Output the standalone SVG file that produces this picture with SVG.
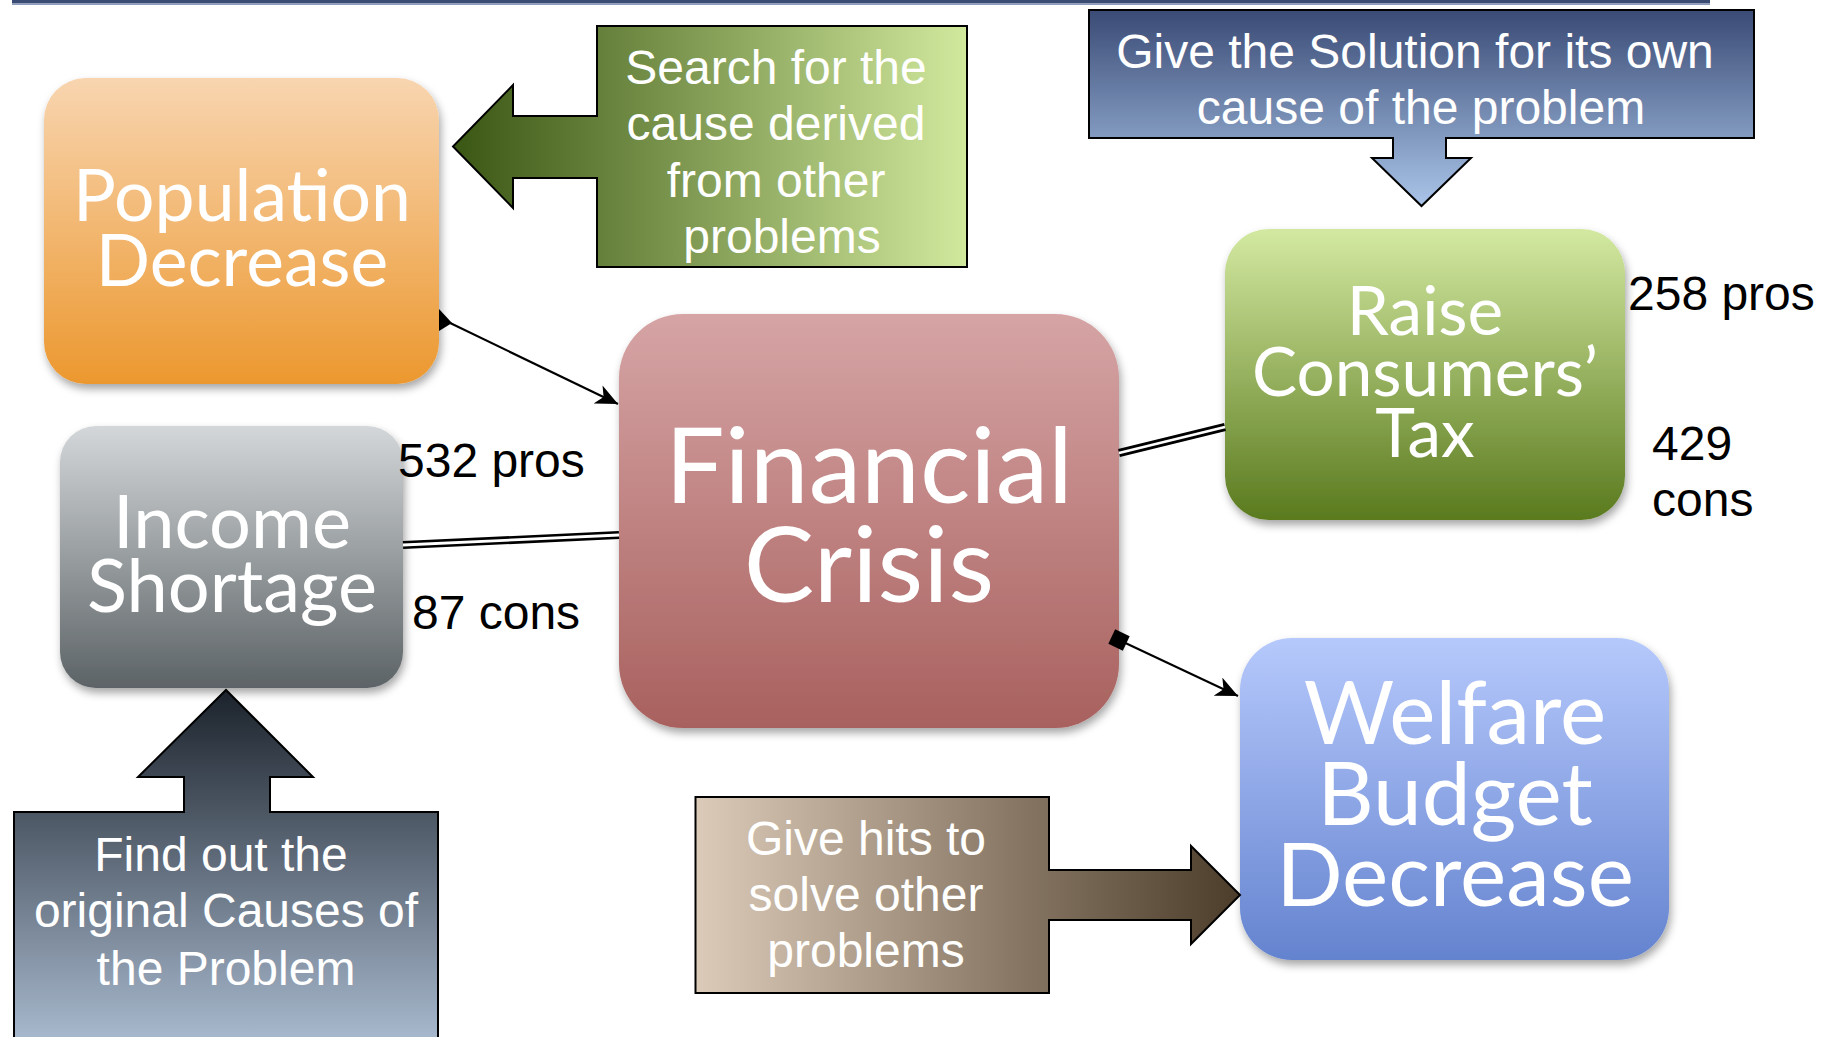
<svg xmlns="http://www.w3.org/2000/svg" width="1836" height="1037" viewBox="0 0 1836 1037">
  <defs>
    <linearGradient id="gPop" x1="0" y1="0" x2="0" y2="1">
      <stop offset="0" stop-color="#f8d5b0"/>
      <stop offset="1" stop-color="#ec982f"/>
    </linearGradient>
    <linearGradient id="gInc" x1="0" y1="0" x2="0" y2="1">
      <stop offset="0" stop-color="#d4d7d9"/>
      <stop offset="1" stop-color="#5c6366"/>
    </linearGradient>
    <linearGradient id="gFin" x1="0" y1="0" x2="0" y2="1">
      <stop offset="0" stop-color="#d6a4a5"/>
      <stop offset="1" stop-color="#a8615e"/>
    </linearGradient>
    <linearGradient id="gTax" x1="0" y1="0" x2="0" y2="1">
      <stop offset="0" stop-color="#d3e9a1"/>
      <stop offset="1" stop-color="#5a7a1e"/>
    </linearGradient>
    <linearGradient id="gWel" x1="0" y1="0" x2="0" y2="1">
      <stop offset="0" stop-color="#b6c9fc"/>
      <stop offset="1" stop-color="#6483cf"/>
    </linearGradient>
    <linearGradient id="gSearch" x1="0" y1="0" x2="1" y2="0">
      <stop offset="0" stop-color="#3a5613"/>
      <stop offset="1" stop-color="#d1e99d"/>
    </linearGradient>
    <linearGradient id="gSolve" x1="0" y1="0" x2="0" y2="1">
      <stop offset="0" stop-color="#3a4b75"/>
      <stop offset="1" stop-color="#aac5e9"/>
    </linearGradient>
    <linearGradient id="gFind" x1="0" y1="0" x2="0" y2="1">
      <stop offset="0" stop-color="#1b222b"/>
      <stop offset="1" stop-color="#aabbd0"/>
    </linearGradient>
    <linearGradient id="gHits" x1="0" y1="0" x2="1" y2="0">
      <stop offset="0" stop-color="#dccbb8"/>
      <stop offset="1" stop-color="#4c3c2a"/>
    </linearGradient>
    <filter id="shadow" x="-10%" y="-10%" width="125%" height="130%">
      <feDropShadow dx="2" dy="5" stdDeviation="4" flood-color="#000" flood-opacity="0.35"/>
    </filter>
    <marker id="stealth" viewBox="0 0 24 20" refX="22" refY="10" markerWidth="24" markerHeight="20" markerUnits="userSpaceOnUse" orient="auto">
      <path d="M22,10 L0,0 L6,10 L0,20 Z" fill="#000"/>
    </marker>
    <marker id="square" viewBox="0 0 18 18" refX="9" refY="9" markerWidth="18" markerHeight="18" markerUnits="userSpaceOnUse" orient="auto">
      <rect x="1" y="1" width="16" height="16" fill="#000"/>
    </marker>
  </defs>
  <style>
    .node-text { font-family: Lato, "Open Sans", sans-serif; fill: #fff; text-anchor: middle; }
    .call-text { font-family: "Liberation Sans", Arial, sans-serif; font-size: 48px; fill: #fff; text-anchor: middle; }
    .count { font-family: "Liberation Sans", Arial, sans-serif; font-size: 48px; fill: #000; }
    .callout { stroke: #000; stroke-width: 2; stroke-linejoin: miter; }
    .link { fill: none; stroke: #000; stroke-width: 2.2; }
    .dbl-outer { fill: none; stroke: #000; stroke-width: 8; }
    .dbl-inner { fill: none; stroke: #fff; stroke-width: 2.8; }
  </style>

  <!-- header rule -->
  <rect x="12" y="0" width="1698" height="3.5" fill="#3a4b74"/>
  <rect x="12" y="3.5" width="1698" height="1.5" fill="#8d9cbd"/>

  <!-- problem nodes -->
  <g id="population-decrease" filter="url(#shadow)">
    <rect x="44" y="78" width="395" height="306" rx="42" fill="url(#gPop)"/>
    <text class="node-text" font-size="71.5"><tspan x="242" y="221">Population</tspan><tspan x="242" y="286">Decrease</tspan></text>
  </g>

  <g id="income-shortage" filter="url(#shadow)">
    <rect x="60" y="426" width="343" height="262" rx="36" fill="url(#gInc)"/>
    <text class="node-text" font-size="74"><tspan x="232" y="548">Income</tspan><tspan x="232" y="612">Shortage</tspan></text>
  </g>

  <g id="financial-crisis" filter="url(#shadow)">
    <rect x="619" y="314" width="500" height="414" rx="64" fill="url(#gFin)"/>
    <text class="node-text" font-size="105.5"><tspan x="869" y="503">Financial</tspan><tspan x="869" y="602">Crisis</tspan></text>
  </g>

  <g id="raise-consumers-tax" filter="url(#shadow)">
    <rect x="1225" y="229" width="400" height="291" rx="44" fill="url(#gTax)"/>
    <text class="node-text" font-size="67.5"><tspan x="1425" y="335">Raise</tspan><tspan x="1425" y="396">Consumers’</tspan><tspan x="1425" y="457">Tax</tspan></text>
  </g>

  <g id="welfare-budget-decrease" filter="url(#shadow)">
    <rect x="1240" y="638" width="429" height="322" rx="52" fill="url(#gWel)"/>
    <text class="node-text" font-size="87.5"><tspan x="1455" y="744">Welfare</tspan><tspan x="1455" y="825">Budget</tspan><tspan x="1455" y="906">Decrease</tspan></text>
  </g>

  <!-- callout arrows -->
  <g id="search-cause">
    <path class="callout" fill="url(#gSearch)" d="M597,26 H967 V267 H597 V178 H513 V208 L453,146.5 L513,85 V116 H597 Z"/>
    <text class="call-text"><tspan x="776" y="84">Search for the</tspan><tspan x="776" y="140">cause derived</tspan><tspan x="776" y="197">from other</tspan><tspan x="782" y="253">problems</tspan></text>
  </g>

  <g id="give-solution">
    <path class="callout" fill="url(#gSolve)" d="M1089,10 H1754 V138 H1446 V158 H1471 L1421.5,206 L1372,158 H1393 V138 H1089 Z"/>
    <text class="call-text"><tspan x="1415" y="68">Give the Solution for its own</tspan><tspan x="1421" y="124">cause of the problem</tspan></text>
  </g>

  <g id="find-causes">
    <path class="callout" fill="url(#gFind)" d="M14,812 H184 V777 H138 L226,690 L313,777 H270 V812 H438 V1046 H14 Z"/>
    <text class="call-text"><tspan x="221" y="871">Find out the</tspan><tspan x="226" y="927">original Causes of</tspan><tspan x="226" y="985">the Problem</tspan></text>
  </g>

  <g id="give-hits">
    <path class="callout" fill="url(#gHits)" d="M695.5,797 H1049 V870 H1191 V846 L1240,895 L1191,944 V920 H1049 V993 H695.5 Z"/>
    <text class="call-text"><tspan x="866" y="855">Give hits to</tspan><tspan x="866" y="911">solve other</tspan><tspan x="866" y="967">problems</tspan></text>
  </g>

  <!-- connectors -->
  <g id="connectors">
    <polygon points="439,309 452,323 439,331" fill="#000"/>
    <line class="link" x1="446" y1="321" x2="618" y2="404" marker-end="url(#stealth)"/>
    <line class="link" x1="1119" y1="640" x2="1238" y2="696" marker-start="url(#square)" marker-end="url(#stealth)"/>
    <line class="dbl-outer" x1="403" y1="545" x2="619" y2="535"/>
    <line class="dbl-inner" x1="403" y1="545" x2="619" y2="535"/>
    <line class="dbl-outer" x1="1119" y1="453" x2="1225" y2="427"/>
    <line class="dbl-inner" x1="1119" y1="453" x2="1225" y2="427"/>
  </g>

  <!-- pros / cons counts -->
  <g id="counts">
    <text class="count" x="398" y="477">532 pros</text>
    <text class="count" x="412" y="629">87 cons</text>
    <text class="count" x="1628" y="310">258 pros</text>
    <text class="count" x="1652" y="460">429</text>
    <text class="count" x="1652" y="516">cons</text>
  </g>
</svg>
